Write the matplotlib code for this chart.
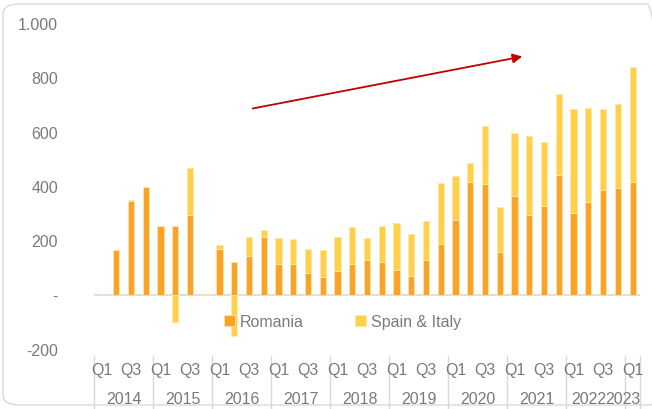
import matplotlib.pyplot as plt
from matplotlib.patches import FancyBboxPatch
import numpy as np

# quarterly data, Q1 2014 .. Q1 2023
years = ['2014', '2015', '2016', '2017', '2018', '2019', '2020', '2021', '2022', '2023']
quarters = ['Q1', 'Q2', 'Q3', 'Q4'] * 9 + ['Q1']
romania = [0, 163, 345, 395,
           254, 254, 292, 0,
           168, 121, 142, 212,
           112, 112, 80, 65,
           86, 112, 128, 119,
           91, 70, 128, 185,
           275, 415, 409, 156,
           363, 292, 326, 439,
           302, 342, 384, 391,
           413]
spain_italy = [0, 3, 3, 2,
               0, -101, 174, 4,
               15, -152, 71, 27,
               95, 92, 87, 98,
               127, 136, 79, 135,
               173, 152, 142, 226,
               161, 70, 213, 167,
               232, 293, 235, 300,
               380, 345, 298, 312,
               426]
y_ticks = [-200, 0, 200, 400, 600, 800, 1000]
y_tick_labels = ['-200', '-', '200', '400', '600', '800', '1.000']

orange = '#FBA324'
yellow = '#FFD04A'
grey = '#7A7A7A'
plt.rcParams['font.family'] = ['Liberation Sans', 'DejaVu Sans']

fig = plt.figure(figsize=(6.52, 4.10), dpi=100)
ax = fig.add_axes([94 / 652, 1 - 350 / 410, 546 / 652, 326 / 410])

x = np.arange(len(quarters))
rom = np.array(romania)
spi = np.array(spain_italy)
bottom = np.where(spi < 0, 0, rom)
w = 0.42
ax.bar(x, rom, width=w, color=orange, edgecolor='#FDE2B5', linewidth=0.6, label='Romania', zorder=3)
ax.bar(x, spi, width=w, bottom=bottom, color=yellow, edgecolor='#FFE9A8', linewidth=0.6,
       label='Spain & Italy', zorder=3)

ax.set_xlim(-0.5, len(quarters) - 0.5)
ax.set_ylim(-200, 1000)
ax.set_yticks(y_ticks)
ax.set_yticklabels(y_tick_labels, fontsize=11.5, color=grey)
ax.set_xticks([])
ax.tick_params(axis='y', length=0, pad=26)
for s in ax.spines.values():
    s.set_visible(False)
ax.axhline(0, color='#D9D9D9', lw=1.2, zorder=2)

# category labels: quarters and years
tr = ax.get_xaxis_transform()
for i, q in enumerate(quarters):
    if q in ('Q1', 'Q3'):
        ax.text(i, -0.064, q, transform=tr, ha='center', va='center', fontsize=11.5, color=grey)
for k, yr in enumerate(years):
    idx = [i for i in range(len(quarters)) if i // 4 == k]
    if yr == years[-1]:
        ax.text(idx[-1] + 0.55, -0.153, yr, transform=tr, ha='right', va='center',
                fontsize=11.5, color=grey)
    else:
        ax.text(np.mean(idx) - (0.5 if k == len(years) - 2 else 0), -0.153, yr, transform=tr,
                ha='center', va='center', fontsize=11.5, color=grey)
bounds = [i - 0.5 for i in range(0, len(quarters), 4)] + [len(quarters) - 0.5]
for b in bounds:
    ax.plot([b, b], [-0.021, -0.19], transform=tr, color='#D9D9D9', lw=1, clip_on=False)

leg = ax.legend(loc='center', bbox_to_anchor=(0.455, 0.083), ncol=2, frameon=False,
                fontsize=11.5, handlelength=0.7, handleheight=0.7, handletextpad=0.3,
                columnspacing=3.2)
for t in leg.get_texts():
    t.set_color(grey)

# trend arrow
ax.annotate('', xy=(525 / 652, 1 - 57 / 410), xytext=(250 / 652, 1 - 110 / 410),
            xycoords='figure fraction', textcoords='figure fraction',
            arrowprops=dict(arrowstyle='-|>', color='#C00000', lw=1.3, mutation_scale=14))

fig.patches.append(FancyBboxPatch((3 / 652, 4 / 410), 660 / 652, 401 / 410,
                                  boxstyle='round,pad=0,rounding_size=0.025',
                                  transform=fig.transFigure, fill=False,
                                  edgecolor='#D9D9D9', lw=1, figure=fig))

fig.savefig('out.png', dpi=100)
